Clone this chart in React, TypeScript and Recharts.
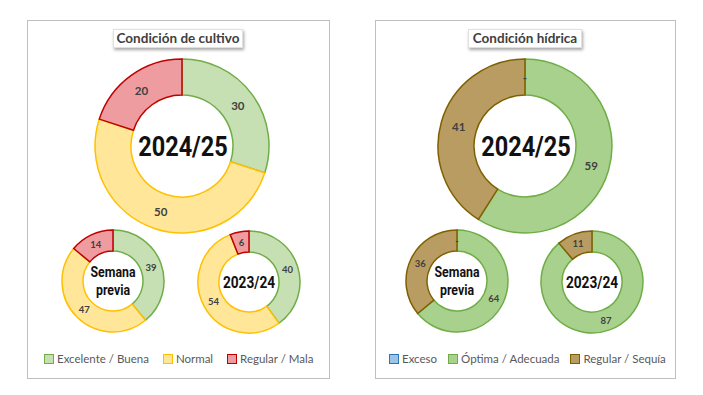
import { PieChart, Pie, Cell } from "recharts";

const cropCategories = ["Excelente / Buena", "Normal", "Regular / Mala"];
const cropCurrent = [30, 50, 20];
const cropPrevWeek = [39, 47, 14];
const cropLastYear = [40, 54, 6];

const waterCategories = ["Exceso", "Óptima / Adecuada", "Regular / Sequía"];
const waterCurrent = [0, 59, 41];
const waterPrevWeek = [0, 64, 36];
const waterLastYear: (number | null)[] = [null, 87, 11];

const cropFills = ["#C6E0B4", "#FFE699", "#EE9CA0"];
const cropStrokes = ["#70AD47", "#FFC000", "#C00000"];
const waterFills = ["#9DC3E6", "#A9D18E", "#B99C62"];
const waterStrokes = ["#2E75B6", "#70AD47", "#7F6000"];

const RAD = Math.PI / 180;
const LABEL = "#404040";

const toRows = (cats: string[], vals: (number | null)[], fills: string[], strokes: string[]) =>
  cats
    .map((name, i) => ({ name, value: vals[i], fill: fills[i], stroke: strokes[i] }))
    .filter((d) => d.value !== null);

const makeLabel = (fs: number) => (p: any) => {
  const r = (p.innerRadius + p.outerRadius) / 2;
  const x = p.cx + r * Math.cos(-p.midAngle * RAD);
  const y = p.cy + r * Math.sin(-p.midAngle * RAD);
  return (
    <text
      x={x}
      y={y}
      textAnchor="middle"
      dominantBaseline="central"
      fontSize={fs}
      fontWeight={700}
      fill={LABEL}
      fontFamily="Lato"
    >
      {p.value === 0 ? "-" : p.value}
    </text>
  );
};

function donut(
  key: string,
  rows: ReturnType<typeof toRows>,
  cx: number,
  cy: number,
  inner: number,
  outer: number,
  fs: number
) {
  return (
    <Pie
      key={key}
      data={rows}
      dataKey="value"
      cx={cx}
      cy={cy}
      innerRadius={inner}
      outerRadius={outer}
      startAngle={90}
      endAngle={-270}
      label={makeLabel(fs)}
      labelLine={false}
      isAnimationActive={false}
    >
      {rows.map((d) => (
        <Cell key={d.name} fill={d.fill} stroke={d.stroke} strokeWidth={1.5} />
      ))}
    </Pie>
  );
}

const centerStyle = (x: number, y: number, size: number, sx: number, lh = size + 1): React.CSSProperties => ({
  position: "absolute",
  left: x,
  top: y,
  transform: `translate(-50%, -50%) scaleX(${sx})`,
  fontFamily: "Roboto",
  fontWeight: 700,
  fontSize: size,
  lineHeight: `${lh}px`,
  color: "#111",
  textAlign: "center",
  whiteSpace: "nowrap",
});

function Legend({ left, cats, fills, strokes, gap }: any) {
  return (
    <div
      style={{
        position: "absolute",
        left,
        top: 351,
        display: "flex",
        gap,
        fontFamily: "Lato",
        fontSize: 11.5,
        color: "#595959",
        lineHeight: "16px",
      }}
    >
      {cats.map((c: string, i: number) => (
        <div key={c} style={{ display: "flex", alignItems: "center", gap: 3 }}>
          <span
            style={{
              width: 8,
              height: 8,
              background: fills[i],
              border: `1px solid ${strokes[i]}`,
              display: "inline-block",
            }}
          />
          <span>{c}</span>
        </div>
      ))}
    </div>
  );
}

const panel = (left: number, width: number): React.CSSProperties => ({
  position: "absolute",
  left,
  top: 20,
  width,
  height: 359,
  border: "1px solid #BFBFBF",
  boxSizing: "border-box",
});

const titleBox = (left: number, width: number): React.CSSProperties => ({
  position: "absolute",
  left,
  top: 29,
  width,
  height: 19,
  background: "#fff",
  border: "1px solid #E0E0E0",
  boxShadow: "1px 2px 3px rgba(0,0,0,0.35)",
  boxSizing: "border-box",
  fontFamily: "Lato",
  fontWeight: 700,
  fontSize: 13.5,
  color: "#404040",
  textAlign: "center",
  lineHeight: "17px",
});

export default function App() {
  const cropRows = [cropCurrent, cropPrevWeek, cropLastYear].map((v) =>
    toRows(cropCategories, v, cropFills, cropStrokes)
  );
  const waterRows = [waterCurrent, waterPrevWeek, waterLastYear].map((v) =>
    toRows(waterCategories, v, waterFills, waterStrokes)
  );

  return (
    <div
      style={{
        position: "absolute",
        left: 0,
        top: 0,
        width: 703,
        height: 395,
        background: "#fff",
        overflow: "hidden",
      }}
    >
      <div style={panel(27, 303)} />
      <div style={panel(375, 301)} />
      <div style={{ position: "absolute", left: 0, top: 0 }}>
        <PieChart width={703} height={395} margin={{ top: 0, right: 0, bottom: 0, left: 0 }}>
          {donut("c0", cropRows[0], 182, 146, 51, 87, 11.5)}
          {donut("c1", cropRows[1], 113, 281, 30, 51, 9.5)}
          {donut("c2", cropRows[2], 249, 282, 30, 51, 9.5)}
          {donut("w0", waterRows[0], 525, 146, 51, 87, 11.5)}
          {donut("w1", waterRows[1], 457, 281, 30, 51, 9.5)}
          {donut("w2", waterRows[2], 592, 282, 30, 51, 9.5)}
        </PieChart>
      </div>

      <div style={titleBox(113, 130)}>Condición de cultivo</div>
      <div style={titleBox(468, 114)}>Condición hídrica</div>

      <div style={centerStyle(183, 147, 27, 0.87)}>2024/25</div>
      <div style={centerStyle(526, 147, 27, 0.87)}>2024/25</div>
      <div style={centerStyle(113, 282, 14.5, 0.85, 18)}>
        Semana
        <br />
        previa
      </div>
      <div style={centerStyle(457, 282, 14.5, 0.85, 18)}>
        Semana
        <br />
        previa
      </div>
      <div style={centerStyle(249, 283, 16.5, 0.83)}>2023/24</div>
      <div style={centerStyle(592, 283, 16.5, 0.83)}>2023/24</div>

      <Legend left={44} cats={cropCategories} fills={cropFills} strokes={cropStrokes} gap={14} />
      <Legend left={389} cats={waterCategories} fills={waterFills} strokes={waterStrokes} gap={11} />
    </div>
  );
}
